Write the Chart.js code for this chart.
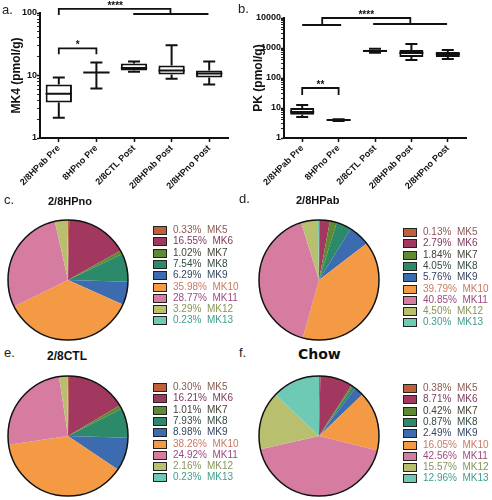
<!DOCTYPE html>
<html><head><meta charset="utf-8">
<script src="https://cdn.jsdelivr.net/npm/chart.js@4.4.0/dist/chart.umd.min.js"></script>
<style>
html,body{margin:0;padding:0;background:#fff;}
body{width:492px;height:500px;position:relative;overflow:hidden;font-family:"Liberation Sans",Arial,sans-serif;color:#111;}
canvas{position:absolute;display:block;}
.lbl{position:absolute;font-size:13px;line-height:13px;color:#222;}
.ttl{position:absolute;font-weight:bold;font-size:11px;line-height:12px;white-space:nowrap;color:#111;}
.leg{position:absolute;font-size:10px;}
.row{position:absolute;left:0;height:11px;white-space:nowrap;}
.row .b{position:absolute;left:0;top:1px;width:12px;height:7px;border:1px solid #222;}
.row .t{position:absolute;left:20px;top:-1px;line-height:11px;}
</style></head>
<body>
<canvas id="cA" width="240" height="200" style="left:0;top:0"></canvas>
<canvas id="cB" width="244" height="200" style="left:242px;top:0"></canvas>
<canvas id="cC" width="124" height="124" style="left:6px;top:218px"></canvas>
<canvas id="cD" width="124" height="124" style="left:257px;top:218px"></canvas>
<canvas id="cE" width="124" height="124" style="left:6px;top:374px"></canvas>
<canvas id="cF" width="124" height="124" style="left:257px;top:374px"></canvas>

<div class="lbl" style="left:2px;top:3px">a.</div>
<div class="lbl" style="left:238px;top:2px">b.</div>
<div class="lbl" style="left:4px;top:193px">c.</div>
<div class="lbl" style="left:239px;top:192px">d.</div>
<div class="lbl" style="left:4px;top:346px">e.</div>
<div class="lbl" style="left:239px;top:346px">f.</div>
<div class="ttl" style="left:48px;top:195px">2/8HPno</div>
<div class="ttl" style="left:296px;top:194px">2/8HPab</div>
<div class="ttl" style="left:47px;top:350px;font-size:12px;">2/8CTL</div>
<div class="ttl" style="left:298px;top:347px;font-family:'DejaVu Sans',Verdana,sans-serif;font-size:14px;line-height:15px;">Chow</div>

<div class="leg" id="lC" style="left:153px;top:225px"></div>
<div class="leg" id="lD" style="left:403px;top:227px"></div>
<div class="leg" id="lE" style="left:153px;top:382px"></div>
<div class="leg" id="lF" style="left:403px;top:383px"></div>

<script>
// ---------------- data ----------------
const boxCategories = ['2/8HPab Pre', '8HPno Pre', '2/8CTL Post', '2/8HPab Post', '2/8HPno Post'];

const mk4Min    = [2.1, 6.2, 11.5, 8.9, 7.2];
const mk4Q1     = [3.7, 11.2, 12.0, 10.4, 9.3];
const mk4Median = [5.1, 11.2, 13.2, 12.0, 10.8];
const mk4Q3     = [7.2, 11.2, 15.5, 14.5, 12.0];
const mk4Max    = [9.3, 16.2, 16.8, 30.5, 16.8];

const pkMin    = [5.0, 3.7, 700, 400, 430];
const pkQ1     = [5.9, 3.85, 750, 500, 500];
const pkMedian = [7.4, 4.0, 800, 680, 630];
const pkQ3     = [10.0, 4.1, 880, 860, 735];
const pkMax    = [12.6, 4.2, 950, 1360, 860];

const mk4TickLabels = [1, 10, 100];
const pkTickLabels = [1, 10, 100, 1000, 10000];

// significance brackets: [category, value] points
const mk4Brackets = [
  {pts: [[0, 21.8], [0, 27.2], [1, 27.2], [1, 21.8]], text: '*', at: [0.5, 27.2]},
  {pts: [[0, 92.8], [0, 116], [2.97, 116], [2.97, 96.3]], text: '****', at: [1.5, 116]},
  {pts: [[1.98, 96.3], [3.98, 96.3]]}
];
const pkBrackets = [
  {pts: [[0, 27], [0, 46.4], [1, 46.4], [1, 27]], text: '**', at: [0.5, 46.4]},
  {pts: [[0, 5840], [1.07, 5840]]},
  {pts: [[0.55, 5840], [0.55, 10000], [2.97, 10000], [2.97, 6310]], text: '****', at: [1.76, 10000]},
  {pts: [[1.95, 6310], [3.98, 6310]]}
];

const pieLabels = ['MK5', 'MK6', 'MK7', 'MK8', 'MK9', 'MK10', 'MK11', 'MK12', 'MK13'];
const hpnoPct = [0.33, 16.55, 1.02, 7.54, 6.29, 35.98, 28.77, 3.29, 0.23];
const hpabPct = [0.13, 2.79, 1.84, 4.05, 5.76, 39.79, 40.85, 4.50, 0.30];
const ctlPct  = [0.30, 16.21, 1.01, 7.93, 8.98, 38.26, 24.92, 2.16, 0.23];
const chowPct = [0.38, 8.71, 0.42, 0.87, 2.49, 16.05, 42.56, 15.57, 12.96];

// ---------------- styles ----------------
const pieColors = ['#c0603a', '#a2385f', '#5f8a32', '#2c8a6a', '#3d6bb0', '#f49a45', '#d67ca0', '#b8c070', '#6fcab5'];
const legendTextColors = ['#8b5a52', '#7d3a5c', '#44443a', '#364c46', '#364463', '#c87a62', '#9b4a80', '#869656', '#3f9c8c'];

function allLogTicks(decades) {
  const out = [];
  for (let i = 0; i < decades.length - 1; i++) {
    for (let k = 1; k <= 9; k++) out.push(decades[i] * k);
  }
  out.push(decades[decades.length - 1]);
  return out;
}

const boxPlugin = {
  id: 'boxWhiskers',
  afterDatasetsDraw(chart, args, o) {
    const {ctx} = chart;
    const x = chart.scales.x, y = chart.scales.y;
    const meta = chart.getDatasetMeta(0);
    ctx.save();
    ctx.strokeStyle = '#111';
    ctx.lineWidth = 2;
    o.min.forEach((mn, i) => {
      const cx = x.getPixelForValue(i);
      const bw = meta.data[i].width;
      const yMin = y.getPixelForValue(mn), yMax = y.getPixelForValue(o.max[i]);
      const yQ1 = y.getPixelForValue(o.q1[i]), yQ3 = y.getPixelForValue(o.q3[i]);
      const yMed = y.getPixelForValue(o.median[i]);
      ctx.beginPath();
      ctx.moveTo(cx, yQ1); ctx.lineTo(cx, yMin);
      ctx.moveTo(cx, yQ3); ctx.lineTo(cx, yMax);
      ctx.moveTo(cx - 6, yMin); ctx.lineTo(cx + 6, yMin);
      ctx.moveTo(cx - 6, yMax); ctx.lineTo(cx + 6, yMax);
      ctx.moveTo(cx - bw / 2, yMed); ctx.lineTo(cx + bw / 2, yMed);
      ctx.stroke();
    });
    ctx.restore();
  }
};

const bracketPlugin = {
  id: 'sigBrackets',
  afterDraw(chart, args, o) {
    const {ctx} = chart;
    const x = chart.scales.x, y = chart.scales.y;
    const px = v => x.getPixelForValue(v);
    ctx.save();
    ctx.strokeStyle = '#111';
    ctx.fillStyle = '#111';
    ctx.lineWidth = 1.8;
    ctx.font = 'bold 10px "Liberation Sans", Arial, sans-serif';
    ctx.textAlign = 'center';
    ctx.textBaseline = 'bottom';
    o.items.forEach(b => {
      ctx.beginPath();
      b.pts.forEach((p, j) => {
        const X = px(p[0]), Y = y.getPixelForValue(p[1]);
        if (j === 0) ctx.moveTo(X, Y); else ctx.lineTo(X, Y);
      });
      ctx.stroke();
      if (b.text) {
        ctx.fillText(b.text, px(b.at[0]), y.getPixelForValue(b.at[1]) + 2);
      }
    });
    ctx.restore();
  }
};

function makeBox(id, mins, q1, med, q3, maxs, decades, title, yWidth, pad, brackets, barPct) {
  new Chart(document.getElementById(id), {
    type: 'bar',
    data: {
      labels: boxCategories,
      datasets: [{
        data: q1.map((v, i) => [v, q3[i]]),
        backgroundColor: '#ffffff',
        borderColor: '#111',
        borderWidth: 2,
        borderSkipped: false,
        categoryPercentage: 1,
        barPercentage: barPct
      }]
    },
    options: {
      responsive: false, animation: false, events: [],
      layout: {padding: pad},
      plugins: {
        legend: {display: false}, tooltip: {enabled: false},
        boxWhiskers: {min: mins, q1: q1, median: med, q3: q3, max: maxs},
        sigBrackets: {items: brackets}
      },
      scales: {
        x: {
          ticks: {maxRotation: 45, minRotation: 45, color: '#111', font: {size: 9, weight: 'bold'}, padding: 1, autoSkip: false},
          grid: {drawOnChartArea: false, offset: false, tickLength: 4, tickColor: '#111', tickWidth: 1.5},
          border: {color: '#111', width: 2},
          afterFit(s) { s.height = 62; }
        },
        y: {
          type: 'logarithmic',
          min: decades[0], max: decades[decades.length - 1],
          afterBuildTicks(s) { s.ticks = allLogTicks(decades).map(v => ({value: v})); },
          ticks: {
            autoSkip: false, color: '#111', font: {size: 9, weight: 'bold'}, padding: 0,
            callback: v => decades.includes(v) ? String(v) : ''
          },
          grid: {
            drawOnChartArea: false, tickLength: 3, tickColor: '#111',
            tickWidth: c => (c.tick && decades.includes(c.tick.value)) ? 1.6 : 0.9
          },
          border: {color: '#111', width: 2},
          title: {display: true, text: title, color: '#111', font: {size: 12, weight: 'bold'}, padding: {top: 9, bottom: 0}},
          afterFit(s) { s.width = yWidth; }
        }
      }
    },
    plugins: [boxPlugin, bracketPlugin]
  });
}

makeBox('cA', mk4Min, mk4Q1, mk4Median, mk4Q3, mk4Max, mk4TickLabels, 'MK4 (pmol/g)', 40,
  {left: 0, right: 12, top: 13, bottom: 0}, mk4Brackets, 0.7);
makeBox('cB', pkMin, pkQ1, pkMedian, pkQ3, pkMax, pkTickLabels, 'PK (pmol/g)', 42,
  {left: 0, right: 20, top: 18, bottom: 0}, pkBrackets, 0.66);

const outlinePlugin = {
  id: 'pieOutline',
  afterDatasetsDraw(chart) {
    const arc = chart.getDatasetMeta(0).data[0];
    if (!arc) return;
    const ctx = chart.ctx;
    ctx.save();
    ctx.strokeStyle = '#111';
    ctx.lineWidth = 1.5;
    ctx.beginPath();
    ctx.arc(arc.x, arc.y, arc.outerRadius, 0, Math.PI * 2);
    ctx.stroke();
    ctx.restore();
  }
};

function makePie(id, legId, pct) {
  new Chart(document.getElementById(id), {
    type: 'pie',
    data: {labels: pieLabels, datasets: [{data: pct, backgroundColor: pieColors, borderWidth: 0, hoverOffset: 0}]},
    options: {
      responsive: false, animation: false, events: [], radius: 60,
      layout: {padding: 0},
      plugins: {legend: {display: false}, tooltip: {enabled: false}}
    },
    plugins: [outlinePlugin]
  });
  const leg = document.getElementById(legId);
  pieLabels.forEach((lab, i) => {
    const row = document.createElement('div');
    row.className = 'row';
    row.style.top = (i * 11.3) + 'px';
    const b = document.createElement('span');
    b.className = 'b';
    b.style.background = pieColors[i];
    const t = document.createElement('span');
    t.className = 't';
    t.style.color = legendTextColors[i];
    t.textContent = pct[i].toFixed(2) + '%\u00a0\u00a0' + lab;
    row.appendChild(b); row.appendChild(t);
    leg.appendChild(row);
  });
}

makePie('cC', 'lC', hpnoPct);
makePie('cD', 'lD', hpabPct);
makePie('cE', 'lE', ctlPct);
makePie('cF', 'lF', chowPct);
</script>
</body></html>
